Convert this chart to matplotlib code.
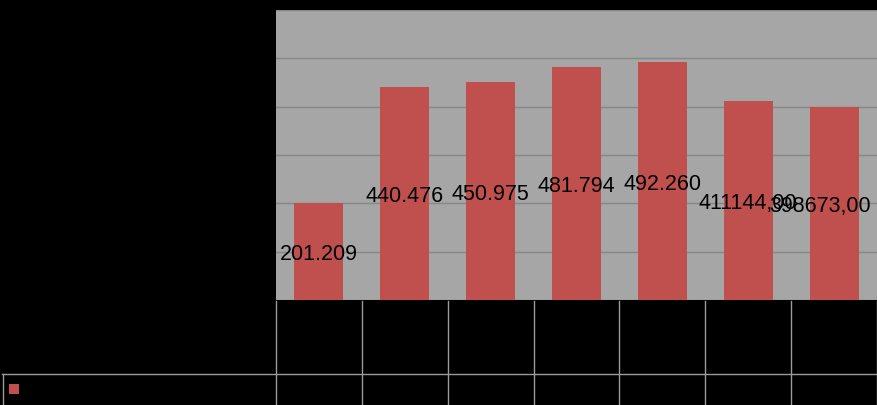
import matplotlib
matplotlib.use("Agg")
import matplotlib.pyplot as plt
from matplotlib.lines import Line2D
from matplotlib.patches import Rectangle
from matplotlib.transforms import blended_transform_factory

plt.rcParams['font.family'] = ['Liberation Sans', 'DejaVu Sans']

# data
categories = ['1', '2', '3', '4', '5', '6', '7']
values = [201209, 440476, 450975, 481794, 492260, 411144, 398673]
labels = ['201.209', '440.476', '450.975', '481.794', '492.260', '411144,00', '398673,00']
y_ticks = [0, 100000, 200000, 300000, 400000, 500000, 600000]

BAR_COLOR = '#C0504D'
PLOT_BG = '#A6A6A6'
GRID = '#878787'
TABLE_LINE = '#9A9A9A'

W, H = 877, 405
fig = plt.figure(figsize=(W / 100, H / 100), dpi=100)
fig.patch.set_facecolor('black')

ax = fig.add_axes([276 / W, 105 / H, 601 / W, 290 / H])
ax.set_facecolor(PLOT_BG)

x = list(range(len(categories)))
ax.bar(x, values, width=0.57, color=BAR_COLOR, zorder=3)

# labels sit in the middle of each bar; the last one is pushed back inside the frame
for xi, v, lab in zip(x, values, labels):
    dx = -14 if xi == len(categories) - 1 else 0
    ax.annotate(lab, (xi, v / 2), xytext=(dx, -3), textcoords='offset pixels',
                ha='center', va='center', fontsize=15.5, color='black', zorder=5)

ax.set_xlim(-0.5, len(categories) - 0.5)
ax.set_ylim(0, 600000)
ax.set_yticks(y_ticks)
ax.set_xticks([])
ax.tick_params(left=False, labelleft=False)
ax.yaxis.grid(True, color=GRID, linewidth=1)
ax.set_axisbelow(True)
for s in ax.spines.values():
    s.set_visible(False)

# data table grid under the chart (text is black on black)
trans = blended_transform_factory(ax.transData, fig.transFigure)
for b in [i - 0.5 for i in range(len(categories) + 1)]:
    fig.add_artist(Line2D([b, b], [0, 104 / H], transform=trans,
                          color=TABLE_LINE, linewidth=1))
fig.add_artist(Line2D([2 / W, 1], [31 / H, 31 / H], transform=fig.transFigure,
                      color=TABLE_LINE, linewidth=1))
fig.add_artist(Line2D([2.5 / W, 2.5 / W], [0, 31 / H], transform=fig.transFigure,
                      color=TABLE_LINE, linewidth=1))

# legend key
fig.add_artist(Rectangle((9 / W, 11 / H), 10 / W, 10 / H, transform=fig.transFigure,
                         facecolor=BAR_COLOR, edgecolor='none'))

fig.savefig('out.png', dpi=100, facecolor=fig.get_facecolor())
